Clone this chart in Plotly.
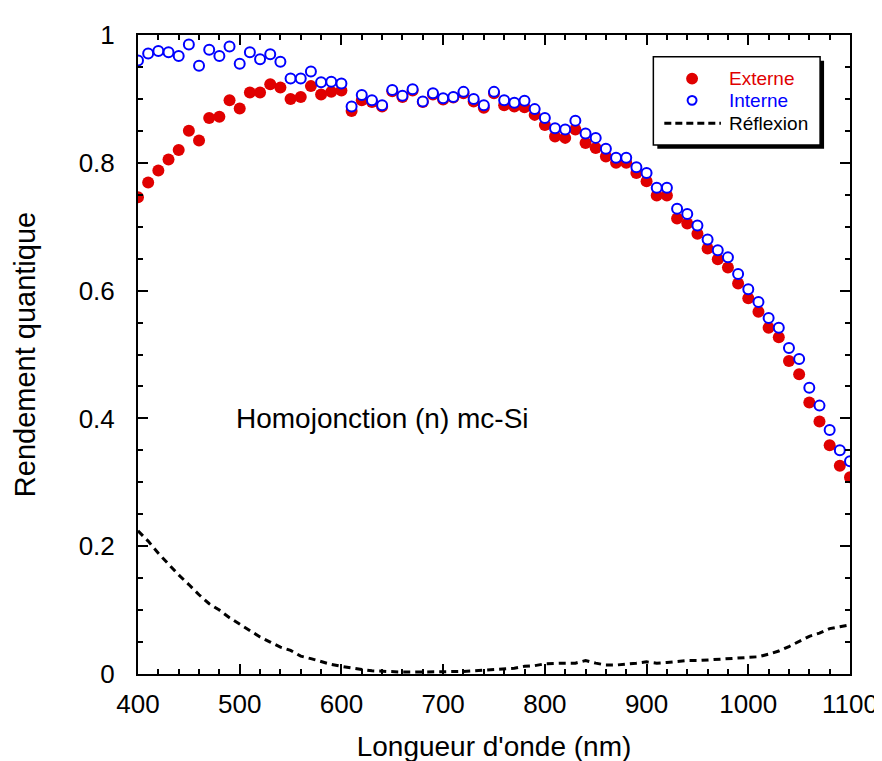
import plotly.graph_objects as go

wavelength = [400, 410, 420, 430, 440, 450, 460, 470, 480, 490,
              500, 510, 520, 530, 540, 550, 560, 570, 580, 590,
              600, 610, 620, 630, 640, 650, 660, 670, 680, 690,
              700, 710, 720, 730, 740, 750, 760, 770, 780, 790,
              800, 810, 820, 830, 840, 850, 860, 870, 880, 890,
              900, 910, 920, 930, 940, 950, 960, 970, 980, 990,
              1000, 1010, 1020, 1030, 1040, 1050, 1060, 1070, 1080, 1090,
              1100]

externe = [0.746, 0.769, 0.788, 0.805, 0.820, 0.850, 0.835, 0.870, 0.872, 0.898,
           0.885, 0.910, 0.910, 0.923, 0.918, 0.900, 0.903, 0.920, 0.907, 0.911,
           0.913, 0.881, 0.898, 0.895, 0.888, 0.912, 0.903, 0.913, 0.895, 0.907,
           0.899, 0.902, 0.909, 0.896, 0.886, 0.909, 0.890, 0.888, 0.887, 0.875,
           0.859, 0.841, 0.839, 0.852, 0.831, 0.823, 0.810, 0.800, 0.800, 0.784,
           0.771, 0.749, 0.749, 0.713, 0.705, 0.689, 0.666, 0.649, 0.636, 0.611,
           0.588, 0.567, 0.542, 0.527, 0.490, 0.469, 0.425, 0.395, 0.358, 0.326,
           0.308]

interne = [0.960, 0.971, 0.975, 0.973, 0.967, 0.985, 0.952, 0.977, 0.967, 0.982,
           0.955, 0.973, 0.962, 0.970, 0.958, 0.932, 0.932, 0.943, 0.926, 0.927,
           0.924, 0.888, 0.906, 0.898, 0.890, 0.914, 0.905, 0.915, 0.896, 0.909,
           0.901, 0.903, 0.911, 0.900, 0.890, 0.911, 0.898, 0.894, 0.897, 0.884,
           0.870, 0.854, 0.852, 0.866, 0.846, 0.839, 0.822, 0.808, 0.808, 0.793,
           0.784, 0.761, 0.761, 0.728, 0.720, 0.702, 0.680, 0.663, 0.652, 0.626,
           0.602, 0.582, 0.557, 0.542, 0.510, 0.493, 0.448, 0.420, 0.382, 0.350,
           0.333]

reflexion = [0.224, 0.208, 0.189, 0.172, 0.155, 0.140, 0.124, 0.110, 0.100, 0.088,
             0.078, 0.067, 0.058, 0.050, 0.042, 0.037, 0.028, 0.024, 0.019, 0.015,
             0.012, 0.009, 0.007, 0.005, 0.004, 0.004, 0.003, 0.003, 0.003, 0.003,
             0.003, 0.004, 0.004, 0.005, 0.006, 0.007, 0.008, 0.009, 0.012, 0.013,
             0.016, 0.017, 0.017, 0.017, 0.021, 0.017, 0.014, 0.014, 0.015, 0.017,
             0.019, 0.017, 0.018, 0.020, 0.021, 0.021, 0.022, 0.022, 0.023, 0.024,
             0.026, 0.027, 0.031, 0.036, 0.043, 0.051, 0.059, 0.064, 0.071, 0.074,
             0.077]

series_names = ["Externe", "Interne", "Réflexion"]
x_ticks = [400, 500, 600, 700, 800, 900, 1000, 1100]
y_ticks = [0, 0.2, 0.4, 0.6, 0.8, 1]
y_tick_labels = ["0", "0.2", "0.4", "0.6", "0.8", "1"]

RED = "#e00000"
BLUE = "#0000ff"
FONT = "Liberation Sans, Arial, sans-serif"

# plot area in pixels (for converting legend layout to paper units)
PW, PH = 717, 645


def px_x(dx):
    return dx / PW


def px_y(dy):
    return dy / PH


fig = go.Figure()

fig.add_trace(go.Scatter(
    x=wavelength, y=reflexion, mode="lines", name=series_names[2],
    line=dict(color="black", width=3, dash="7px,5px"),
))
fig.add_trace(go.Scatter(
    x=wavelength, y=externe, mode="markers", name=series_names[0],
    marker=dict(symbol="circle", size=12, color=RED, line=dict(width=0)),
))
fig.add_trace(go.Scatter(
    x=wavelength, y=interne, mode="markers", name=series_names[1],
    marker=dict(symbol="circle", size=10, color="white", line=dict(color=BLUE, width=2)),
))

axis_common = dict(
    showline=True, linecolor="black", linewidth=2, mirror="allticks",
    ticks="inside", ticklen=10, tickwidth=1.5, tickcolor="black",
    showgrid=False, zeroline=False,
    tickfont=dict(family=FONT, size=26, color="black"),
)

fig.update_xaxes(
    range=[400, 1100], tickvals=x_ticks, ticklabelstandoff=6,
    minor=dict(dtick=20, ticks="inside", ticklen=5, tickwidth=1.5, tickcolor="black", showgrid=False),
    title=dict(text="Longueur d'onde (nm)", font=dict(family=FONT, size=28, color="black"), standoff=18),
    **axis_common,
)
fig.update_yaxes(
    range=[0, 1], tickvals=y_ticks, ticktext=y_tick_labels, ticklabelstandoff=16,
    minor=dict(dtick=0.05, ticks="inside", ticklen=5, tickwidth=1.5, tickcolor="black", showgrid=False),
    title=dict(text="Rendement quantique", font=dict(family=FONT, size=29, color="black"), standoff=34),
    **axis_common,
)

# ---- legend (frame with drop shadow, symbols, texts) ----
bx0, bx1, by0, by1 = 0.7238, 0.958, 0.828, 0.966
fig.add_shape(type="rect", xref="paper", yref="paper",
              x0=bx0 + px_x(4), x1=bx1 + px_x(4), y0=by0 - px_y(4), y1=by1 - px_y(4),
              fillcolor="black", line=dict(width=0), layer="above")
fig.add_shape(type="rect", xref="paper", yref="paper",
              x0=bx0, x1=bx1, y0=by0, y1=by1,
              fillcolor="white", line=dict(color="black", width=1.5), layer="above")

sym_x = 0.7782
txt_x = 0.8271
row_y = [0.9318, 0.8977, 0.8620]
r = 5.5
fig.add_shape(type="circle", xref="paper", yref="paper",
              x0=sym_x - px_x(r + 0.5), x1=sym_x + px_x(r + 0.5),
              y0=row_y[0] - px_y(r + 0.5), y1=row_y[0] + px_y(r + 0.5),
              fillcolor=RED, line=dict(width=0), layer="above")
fig.add_shape(type="circle", xref="paper", yref="paper",
              x0=sym_x - px_x(r - 1), x1=sym_x + px_x(r - 1),
              y0=row_y[1] - px_y(r - 1), y1=row_y[1] + px_y(r - 1),
              fillcolor="white", line=dict(color=BLUE, width=2), layer="above")
fig.add_shape(type="line", xref="paper", yref="paper",
              x0=0.7392, x1=0.8187, y0=row_y[2], y1=row_y[2],
              line=dict(color="black", width=3, dash="7px,4px"), layer="above")

for name, yy, col in zip(series_names, row_y, [RED, BLUE, "black"]):
    fig.add_annotation(
        x=txt_x, y=yy, xref="paper", yref="paper", text=name,
        xanchor="left", yanchor="middle", showarrow=False,
        font=dict(family=FONT, size=19, color=col),
    )

fig.add_annotation(
    x=640, y=0.40, xref="x", yref="y", text="Homojonction (n) mc-Si",
    showarrow=False, font=dict(family=FONT, size=28, color="black"),
)

fig.update_layout(
    width=882, height=761,
    margin=dict(l=130, r=35, t=26, b=90),
    paper_bgcolor="white", plot_bgcolor="white",
    showlegend=False,
)

fig.write_html("out.html")
